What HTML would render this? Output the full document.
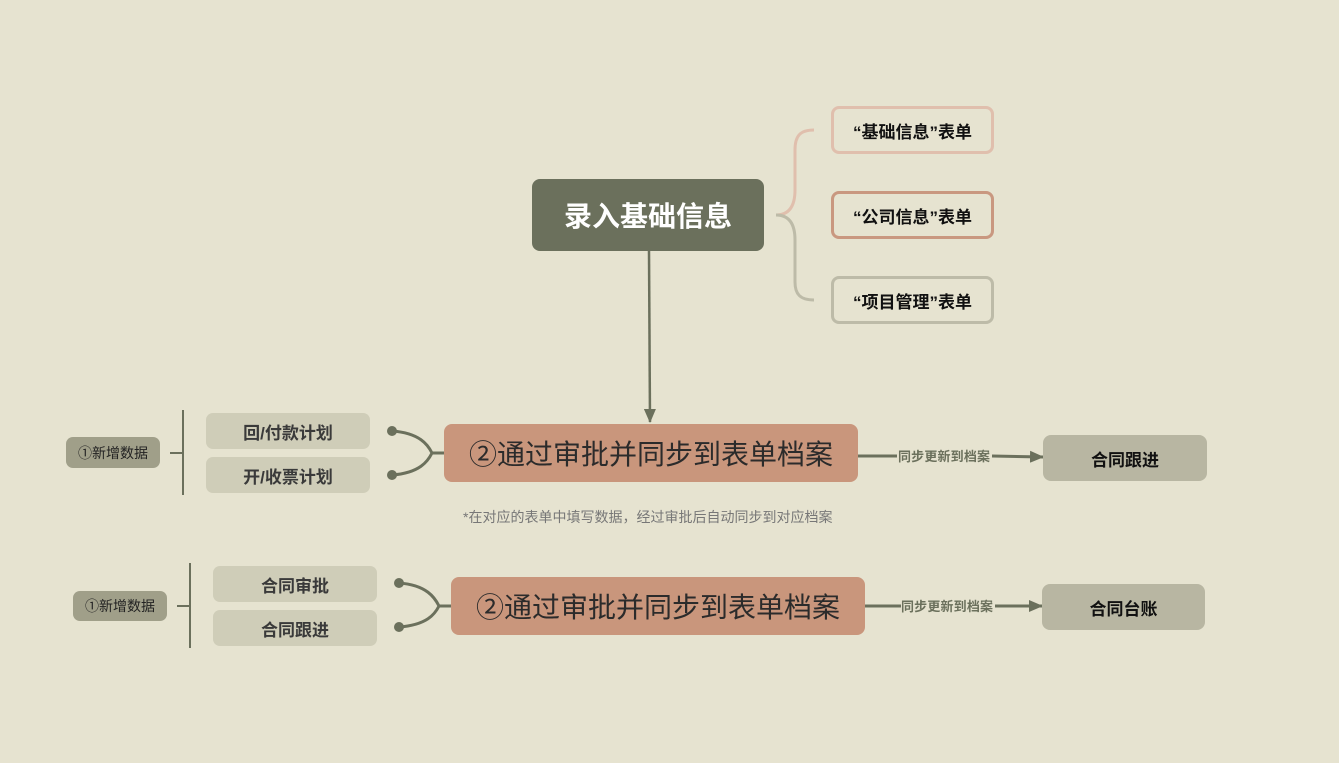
<!DOCTYPE html>
<html><head><meta charset="utf-8"><style>
body{margin:0;width:1339px;height:763px;background:#e6e3d0;position:relative;overflow:hidden;font-family:"Liberation Sans","Noto Sans CJK SC",sans-serif}
.b{position:absolute;box-sizing:border-box;display:flex;align-items:center;justify-content:center;white-space:nowrap}
svg{position:absolute;left:0;top:0}
</style></head><body>
<svg width="1339" height="763">
<defs><marker id="a" markerWidth="14" markerHeight="12" refX="13" refY="6" orient="auto" markerUnits="userSpaceOnUse"><path d="M0,0 L14,6 L0,12z" fill="#6b705c"/></marker></defs>
<path d="M776,215 C790,215 795,205 795,190 L795,150 C795,136 800,130 814,130" stroke="#e0bfad" stroke-width="3" fill="none"/>
<path d="M776,215 C790,215 795,225 795,240 L795,282 C795,294 800,300 814,300" stroke="#bdbba8" stroke-width="3" fill="none"/>
<line x1="649" y1="251" x2="650" y2="422" stroke="#6b705c" stroke-width="2.5" marker-end="url(#a)"/>
<line x1="183" y1="410" x2="183" y2="495" stroke="#6b705c" stroke-width="2"/>
<line x1="170" y1="453" x2="183" y2="453" stroke="#6b705c" stroke-width="2"/>
<line x1="190" y1="563" x2="190" y2="648" stroke="#6b705c" stroke-width="2"/>
<line x1="177" y1="606" x2="190" y2="606" stroke="#6b705c" stroke-width="2"/>
<path d="M392,431 C420,433 428,445 432,453 C428,461 420,473 392,475 M432,453 L444,453" stroke="#6b705c" stroke-width="3" fill="none"/>
<circle cx="392" cy="431" r="5" fill="#6b705c"/><circle cx="392" cy="475" r="5" fill="#6b705c"/>
<path d="M399,583 C427,585 435,598 439,606 C435,614 427,625 399,627 M439,606 L451,606" stroke="#6b705c" stroke-width="3" fill="none"/>
<circle cx="399" cy="583" r="5" fill="#6b705c"/><circle cx="399" cy="627" r="5" fill="#6b705c"/>
<line x1="858" y1="456" x2="897" y2="456" stroke="#6b705c" stroke-width="3"/>
<line x1="992" y1="456" x2="1043" y2="457" stroke="#6b705c" stroke-width="3" marker-end="url(#a)"/>
<line x1="865" y1="606" x2="901" y2="606" stroke="#6b705c" stroke-width="3"/>
<line x1="995" y1="606" x2="1042" y2="606" stroke="#6b705c" stroke-width="3" marker-end="url(#a)"/>
<text x="898" y="461" font-size="13" fill="#6b705c" font-weight="bold" textLength="92">同步更新到档案</text>
<text x="901" y="611" font-size="13" fill="#6b705c" font-weight="bold" textLength="92">同步更新到档案</text>
</svg>
<div class="b" style="left:532px;top:179px;width:232px;height:72px;background:#6b705c;border-radius:8px;color:#fff;font-size:28px;font-weight:bold">录入基础信息</div>
<div class="b" style="left:831px;top:106px;width:163px;height:48px;border:3px solid #e0bfad;border-radius:8px;font-size:17px;font-weight:bold;color:#111">“基础信息”表单</div>
<div class="b" style="left:831px;top:191px;width:163px;height:48px;border:3px solid #c99880;border-radius:8px;font-size:17px;font-weight:bold;color:#111">“公司信息”表单</div>
<div class="b" style="left:831px;top:276px;width:163px;height:48px;border:3px solid #bdbba8;border-radius:8px;font-size:17px;font-weight:bold;color:#111">“项目管理”表单</div>
<div class="b" style="left:444px;top:424px;width:414px;height:58px;background:#c9967c;border-radius:8px;font-size:28px;color:#2b2b2b">②通过审批并同步到表单档案</div>
<div class="b" style="left:451px;top:577px;width:414px;height:58px;background:#c9967c;border-radius:8px;font-size:28px;color:#2b2b2b">②通过审批并同步到表单档案</div>
<div class="b" style="left:66px;top:437px;width:94px;height:31px;background:#a09f89;border-radius:7px;font-size:14px;color:#222">①新增数据</div>
<div class="b" style="left:73px;top:591px;width:94px;height:30px;background:#a09f89;border-radius:7px;font-size:14px;color:#222">①新增数据</div>
<div class="b" style="left:206px;top:413px;width:164px;height:36px;background:#cfcdb8;border-radius:7px;font-size:17px;font-weight:bold;color:#3a3a3a">回/付款计划</div>
<div class="b" style="left:206px;top:457px;width:164px;height:36px;background:#cfcdb8;border-radius:7px;font-size:17px;font-weight:bold;color:#3a3a3a">开/收票计划</div>
<div class="b" style="left:213px;top:566px;width:164px;height:36px;background:#cfcdb8;border-radius:7px;font-size:17px;font-weight:bold;color:#3a3a3a">合同审批</div>
<div class="b" style="left:213px;top:610px;width:164px;height:36px;background:#cfcdb8;border-radius:7px;font-size:17px;font-weight:bold;color:#3a3a3a">合同跟进</div>
<div class="b" style="left:1043px;top:435px;width:164px;height:46px;background:#b8b6a2;border-radius:8px;font-size:17px;font-weight:bold;color:#111">合同跟进</div>
<div class="b" style="left:1042px;top:584px;width:163px;height:46px;background:#b8b6a2;border-radius:8px;font-size:17px;font-weight:bold;color:#111">合同台账</div>
<div style="position:absolute;left:463px;top:507px;font-size:14px;color:#777;white-space:nowrap;letter-spacing:0">*在对应的表单中填写数据，经过审批后自动同步到对应档案</div>
</body></html>
